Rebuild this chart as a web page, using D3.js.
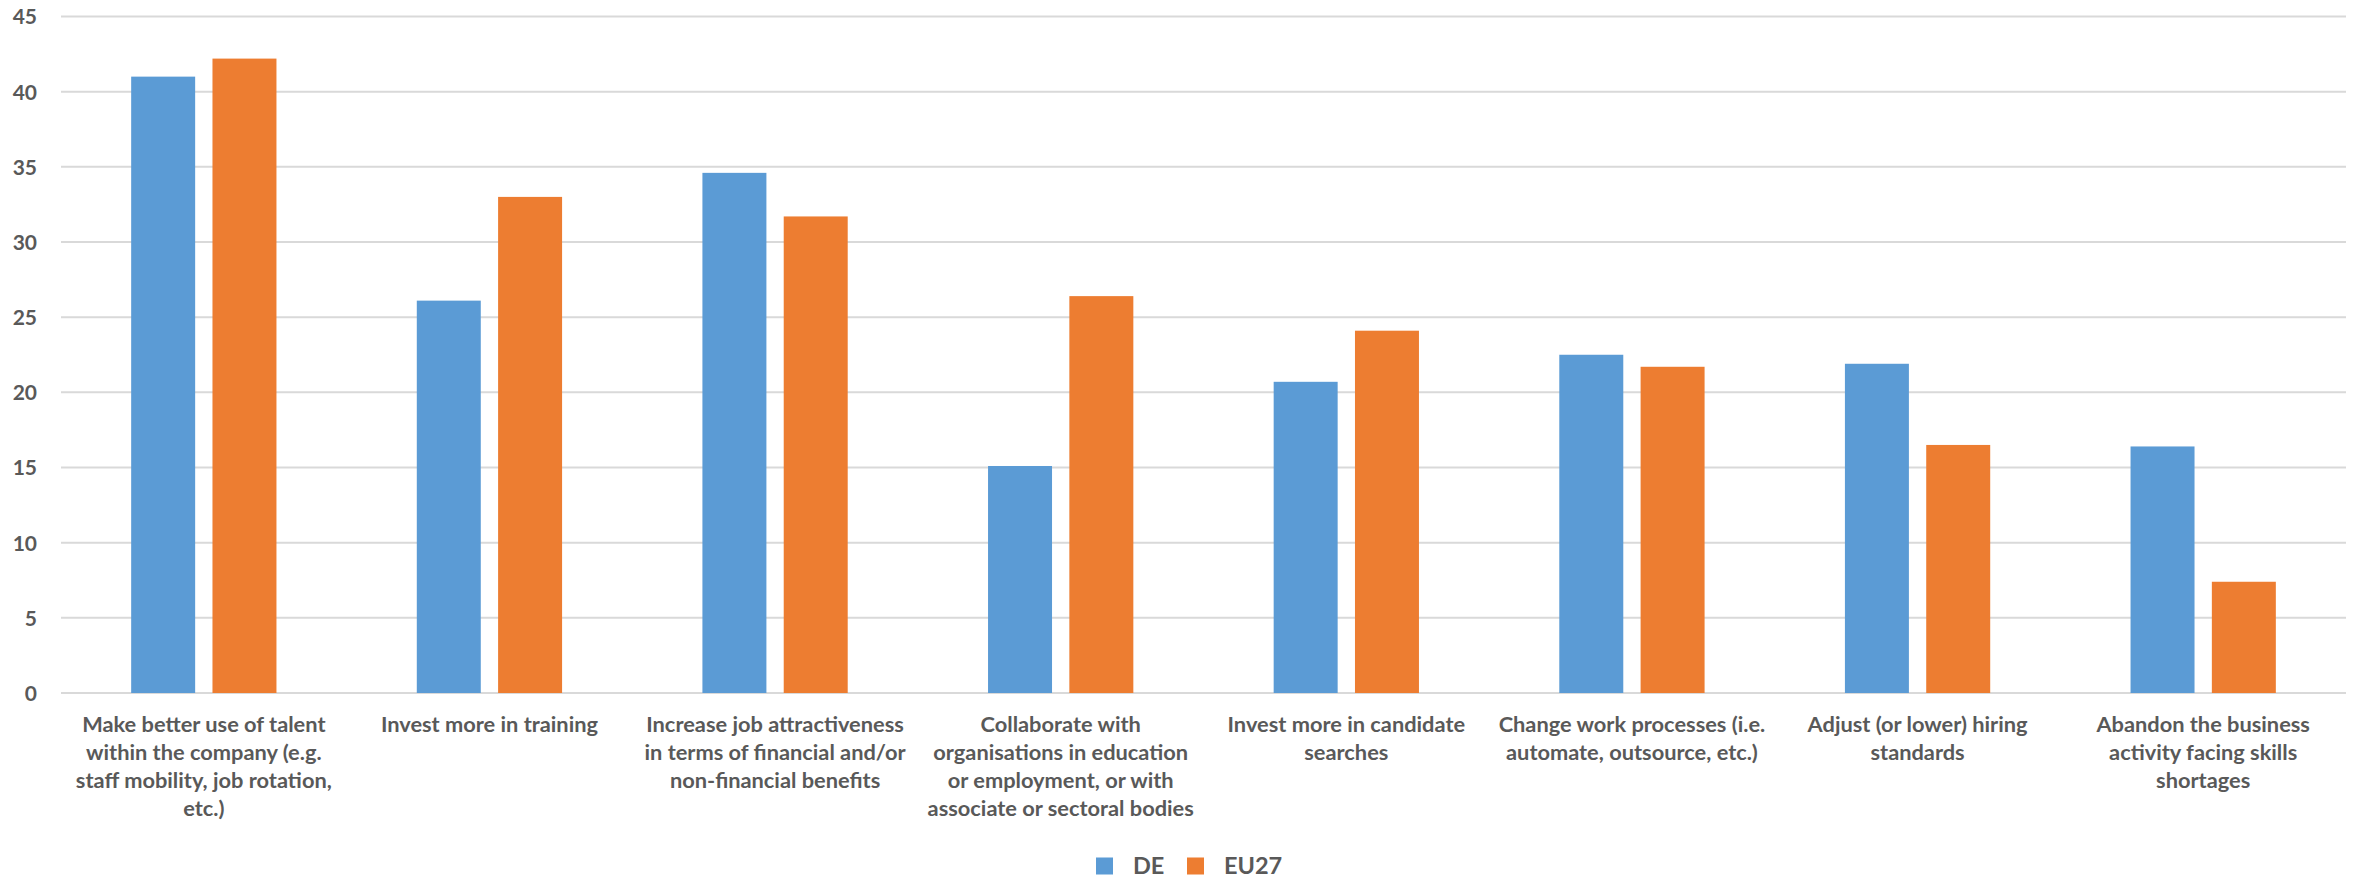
<!DOCTYPE html>
<html>
<head>
<meta charset="utf-8">
<script src="https://cdn.jsdelivr.net/npm/d3@7"></script>
<style>
  html, body { margin: 0; padding: 0; background: #ffffff; }
  svg { display: block; }
  text { font-family: Lato, "Open Sans", sans-serif; font-weight: 700; fill: #595959; }
</style>
</head>
<body>
<svg id="chart" width="2361" height="878"></svg>
<script>
// Measures taken by companies to address skills shortages (% of companies)
const categories = [
  ["Make better use of talent", "within the company (e.g.", "staff mobility, job rotation,", "etc.)"],
  ["Invest more in training"],
  ["Increase job attractiveness", "in terms of financial and/or", "non-financial benefits"],
  ["Collaborate with", "organisations in education", "or employment, or with", "associate or sectoral bodies"],
  ["Invest more in candidate", "searches"],
  ["Change work processes (i.e.", "automate, outsource, etc.)"],
  ["Adjust (or lower) hiring", "standards"],
  ["Abandon the business", "activity facing skills", "shortages"]
];
const seriesNames = ["DE", "EU27"];
const valuesDE   = [41.0, 26.1, 34.6, 15.1, 20.7, 22.5, 21.9, 16.4];
const valuesEU27 = [42.2, 33.0, 31.7, 26.4, 24.1, 21.7, 16.5, 7.4];
const yTicks = [0, 5, 10, 15, 20, 25, 30, 35, 40, 45];
const colors = ["#5B9BD5", "#ED7D31"];

const seriesValues = [valuesDE, valuesEU27];
const rows = categories.map((c, i) => ({
  idx: i,
  label: c,
  vals: seriesNames.map((s, k) => ({ key: s, value: seriesValues[k][i] }))
}));

const svg = d3.select("#chart");
const plot = { left: 61, right: 2346, top: 16.5, bottom: 693 };

const x0 = d3.scaleBand()
  .domain(d3.range(categories.length))
  .range([plot.left, plot.right])
  .paddingInner(0)
  .paddingOuter(0);

const x1 = d3.scaleBand()
  .domain(seriesNames)
  .range([0, x0.bandwidth()])
  .paddingInner(0.213)
  .paddingOuter(0.863);

const y = d3.scaleLinear()
  .domain([0, 45])
  .range([plot.bottom, plot.top]);

// Horizontal gridlines
svg.append("g")
  .selectAll("line")
  .data(yTicks)
  .join("line")
  .attr("x1", plot.left)
  .attr("x2", plot.right)
  .attr("y1", d => y(d))
  .attr("y2", d => y(d))
  .attr("stroke", "#D9D9D9")
  .attr("stroke-width", 2);

// Y axis labels
const yAxis = d3.axisLeft(y).tickValues(yTicks).tickSize(0).tickPadding(0);
const yg = svg.append("g")
  .attr("transform", `translate(37,0)`)
  .call(yAxis);
yg.select(".domain").remove();
yg.selectAll("text")
  .attr("font-size", 21)
  .attr("dy", "0.35em")
  .style("font-family", "Lato, sans-serif")
  .style("font-weight", 700)
  .style("fill", "#595959");

// Bars
svg.append("g")
  .selectAll("g")
  .data(rows)
  .join("g")
  .attr("transform", d => `translate(${x0(d.idx)},0)`)
  .selectAll("rect")
  .data(d => d.vals)
  .join("rect")
  .attr("x", d => x1(d.key))
  .attr("width", x1.bandwidth())
  .attr("y", d => y(d.value))
  .attr("height", d => y(0) - y(d.value))
  .attr("fill", (d, i) => colors[i]);

// Category labels
const lineHeight = 28.3;
svg.append("g")
  .selectAll("text")
  .data(rows)
  .join("text")
  .attr("text-anchor", "middle")
  .attr("font-size", 21.8)
  .attr("transform", d => `translate(${x0(d.idx) + x0.bandwidth() / 2},731.5)`)
  .selectAll("tspan")
  .data(d => d.label)
  .join("tspan")
  .attr("x", 0)
  .attr("y", (d, i) => i * lineHeight)
  .text(d => d);

// Legend
const legend = svg.append("g");
const legendItems = [
  { name: seriesNames[0], color: colors[0], sx: 1096, tx: 1133 },
  { name: seriesNames[1], color: colors[1], sx: 1187, tx: 1224 }
];
legend.selectAll("rect")
  .data(legendItems)
  .join("rect")
  .attr("x", d => d.sx)
  .attr("y", 857.5)
  .attr("width", 17)
  .attr("height", 17)
  .attr("fill", d => d.color);
legend.selectAll("text")
  .data(legendItems)
  .join("text")
  .attr("x", d => d.tx)
  .attr("y", 874)
  .attr("font-size", 23.5)
  .text(d => d.name);
</script>
</body>
</html>
